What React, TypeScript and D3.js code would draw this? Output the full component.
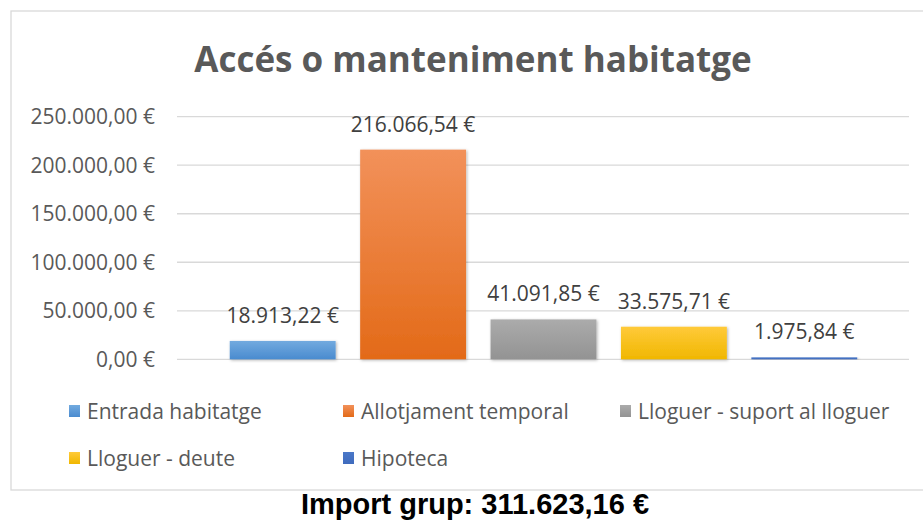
import React from "react";
import * as d3 from "d3";

const title = "Accés o manteniment habitatge";
const footer = "Import grup: 311.623,16 €";
const categories = [
  "Entrada habitatge",
  "Allotjament temporal",
  "Lloguer - suport al lloguer",
  "Lloguer - deute",
  "Hipoteca",
];
const values = [18913.22, 216066.54, 41091.85, 33575.71, 1975.84];
const yTicks = [0, 50000, 100000, 150000, 200000, 250000];
const colorsTop = ["#72aadf", "#f2915a", "#ababab", "#ffca3a", "#4a78c8"];
const colorsBottom = ["#4a8bcf", "#e36a18", "#939393", "#f0b700", "#3f6bbd"];

const locale = d3.formatLocale({
  decimal: ",",
  thousands: ".",
  grouping: [3],
  currency: ["", " €"],
});
const fmt = locale.format("$,.2f");

const W = 923;
const H = 520;
const FONT = "'Open Sans', 'DejaVu Sans', sans-serif";

export default function App() {
  const y = d3.scaleLinear().domain([0, 250000]).range([359.3, 116.7]);
  const x = d3
    .scaleBand<string>()
    .domain(categories)
    .range([217.5, 869.5])
    .paddingInner(0.188)
    .paddingOuter(0.094);
  const gridX0 = 177;
  const gridX1 = 909;

  const legendPos = [
    { x: 69, y: 411 },
    { x: 343, y: 411 },
    { x: 620, y: 411 },
    { x: 69, y: 458 },
    { x: 343, y: 458 },
  ];

  return (
    <svg
      width={W}
      height={H}
      style={{ position: "absolute", left: 0, top: 0, display: "block" }}
    >
      <defs>
        {categories.map((c, i) => (
          <linearGradient key={c} id={`g${i}`} x1="0" y1="0" x2="0" y2="1">
            <stop offset="0%" stopColor={colorsTop[i]} />
            <stop offset="100%" stopColor={colorsBottom[i]} />
          </linearGradient>
        ))}
        <filter id="sh" x="-10%" y="-10%" width="130%" height="130%">
          <feDropShadow dx="1" dy="1" stdDeviation="1.5" floodColor="#000" floodOpacity="0.3" />
        </filter>
      </defs>
      <rect x={0} y={0} width={W} height={H} fill="#fff" />
      <rect x={11} y={11} width={W} height={479} fill="#fff" stroke="#d9d9d9" strokeWidth={1.3} />
      <text
        x={473}
        y={72}
        textAnchor="middle"
        fontFamily={FONT}
        fontWeight="bold"
        fontSize={35}
        fill="#595959"
      >
        {title}
      </text>
      {yTicks.map((t) => (
        <g key={t}>
          <line x1={gridX0} x2={gridX1} y1={y(t)} y2={y(t)} stroke="#d9d9d9" strokeWidth={1.3} />
          <text
            x={155}
            y={y(t)}
            dy="0.36em"
            textAnchor="end"
            fontFamily={FONT}
            fontSize={21}
            fill="#595959"
          >
            {fmt(t)}
          </text>
        </g>
      ))}
      {categories.map((c, i) => {
        const bx = x(c)!;
        const top = y(values[i]);
        return (
          <g key={c}>
            <rect
              x={bx}
              y={top}
              width={x.bandwidth()}
              height={Math.max(y(0) - top, 1.5)}
              fill={`url(#g${i})`}
              filter="url(#sh)"
            />
            <text
              x={bx + x.bandwidth() / 2}
              y={top - 18}
              textAnchor="middle"
              fontFamily={FONT}
              fontSize={21}
              fill="#404040"
            >
              {fmt(values[i])}
            </text>
          </g>
        );
      })}
      {categories.map((c, i) => (
        <g key={c} transform={`translate(${legendPos[i].x},${legendPos[i].y})`}>
          <rect x={0} y={-6} width={11} height={12} fill={`url(#g${i})`} />
          <text x={18} y={0} dy="0.36em" fontFamily={FONT} fontSize={21} fill="#595959">
            {c}
          </text>
        </g>
      ))}
      <text
        x={475}
        y={514}
        textAnchor="middle"
        fontFamily="'Liberation Sans', Arial, sans-serif"
        fontWeight="bold"
        fontSize={29}
        fill="#000"
      >
        {footer}
      </text>
    </svg>
  );
}
